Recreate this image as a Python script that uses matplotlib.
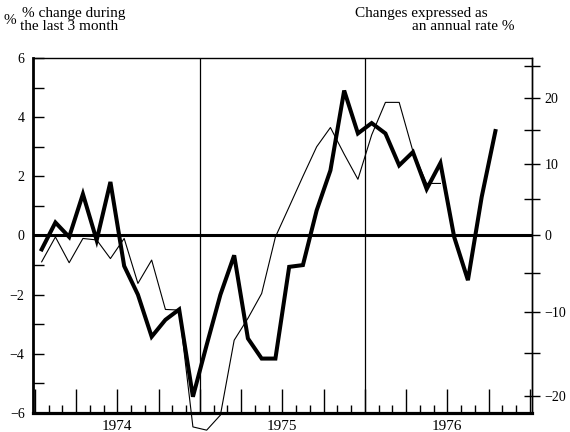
import numpy as np
import matplotlib
matplotlib.use("Agg")
import matplotlib.pyplot as plt
from matplotlib.ticker import FixedLocator, FixedFormatter, NullFormatter

plt.rcParams['font.family'] = ['Liberation Serif', 'DejaVu Serif']

# Monthly data, January 1974 onwards (% change during the last 3 months)
thick = [-0.47, 0.44, -0.05, 1.40, -0.16, 1.81, -1.03, -2.0, -3.42, -2.85, -2.5, -5.45,
         -3.7, -2.0, -0.67, -3.48, -4.16, -4.16, -1.06, -1.0, 0.85, 2.2, 4.9, 3.45,
         3.8, 3.45, 2.37, 2.82, 1.57, 2.45, -0.05, -1.51, 1.3, 3.53]
thin = [-0.89, -0.05, -0.92, -0.1, -0.15, -0.78, -0.1, -1.62, -0.83, -2.5, -2.52, -6.47,
        -6.58, -6.07, -3.54, -2.8, -1.96, -0.05, 0.97, 2.0, 3.0, 3.65, 2.75, 1.9,
        3.4, 4.5, 4.5, 2.85, 1.76, 1.76]
years = ['1974', '1975', '1976']
left_ticks = list(range(-6, 7))
left_labels = ['-6', '', '-4', '', '-2', '', '0', '', '2', '', '4', '', '6']
right_major = [-20, -10, 0, 10, 20]
right_minor = [-15, -5, 5, 15, 25]

x_thick = np.arange(len(thick)) + 0.5
x_thin = np.arange(len(thin)) + 0.5

fig = plt.figure(figsize=(5.7, 4.32), dpi=100)
W, H = 570, 432
ax = fig.add_axes([33 / W, 1 - 413 / H, (532 - 33) / W, (413 - 58) / H])

ax.set_xlim(-0.13, 36.16)
ax.set_ylim(-6, 6)

ax.axhline(0, color='black', lw=2.2, zorder=2)
for yb in (12, 24):
    ax.axvline(yb, color='black', lw=0.9, zorder=2)

ax.plot(x_thin, thin, color='black', lw=0.8, clip_on=False, zorder=3)
ax.plot(x_thick, thick, color='black', lw=2.9, zorder=4, solid_joinstyle='miter')

for s in ('left',):
    ax.spines[s].set_linewidth(2.0)
ax.spines['bottom'].set_linewidth(2.3)
ax.spines['top'].set_linewidth(1.0)
ax.spines['right'].set_linewidth(1.0)

# y axis (left)
ax.yaxis.set_major_locator(FixedLocator(left_ticks))
ax.yaxis.set_major_formatter(FixedFormatter([l.replace('-', '\u2212') for l in left_labels]))
ax.tick_params(axis='y', which='major', direction='in', length=8, width=1.0,
               labelsize=10, pad=6, right=False)

# x axis (months)
quarter = list(range(0, 37, 3))
qlabels = []
for q in quarter:
    if q in (6, 18, 30):
        qlabels.append(years[(q - 6) // 12])
    else:
        qlabels.append('')
ax.xaxis.set_major_locator(FixedLocator(quarter))
ax.xaxis.set_major_formatter(FixedFormatter(qlabels))
ax.xaxis.set_minor_locator(FixedLocator([m for m in range(0, 37) if m % 3]))
ax.xaxis.set_minor_formatter(NullFormatter())
ax.tick_params(axis='x', which='major', direction='in', length=17, width=1.0,
               labelsize=11, pad=5, top=False)
ax.tick_params(axis='x', which='minor', direction='in', length=6, width=1.0, top=False)


def to_annual(x):
    x = np.asarray(x, dtype=float)
    return ((1 + x / 100.0) ** 4 - 1) * 100.0


def to_quarter(a):
    a = np.asarray(a, dtype=float)
    base = np.clip(1 + a / 100.0, 1e-6, None)
    return (base ** 0.25 - 1) * 100.0


sec = ax.secondary_yaxis('right', functions=(to_annual, to_quarter))
sec.yaxis.set_major_locator(FixedLocator(right_major))
sec.yaxis.set_major_formatter(FixedFormatter([str(v).replace('-', '\u2212') for v in right_major]))
sec.yaxis.set_minor_locator(FixedLocator(right_minor))
sec.yaxis.set_minor_formatter(NullFormatter())
sec.tick_params(axis='y', which='both', direction='inout', length=12, width=1.0,
                labelsize=10, pad=3)
sec.spines['right'].set_linewidth(1.0)

# Header texts
fig.text(3 / W, 1 - 21 / H, '%', fontsize=11, va='center', ha='left')
fig.text(22 / W, 1 - 17 / H, '% change during', fontsize=11, va='baseline', ha='left')
fig.text(20 / W, 1 - 30 / H, 'the last 3 month', fontsize=11, va='baseline', ha='left')
fig.text(488 / W, 1 - 17 / H, 'Changes expressed as', fontsize=11, va='baseline', ha='right')
fig.text(515 / W, 1 - 30 / H, 'an annual rate %', fontsize=11, va='baseline', ha='right')

fig.savefig('out.png', dpi=100)
